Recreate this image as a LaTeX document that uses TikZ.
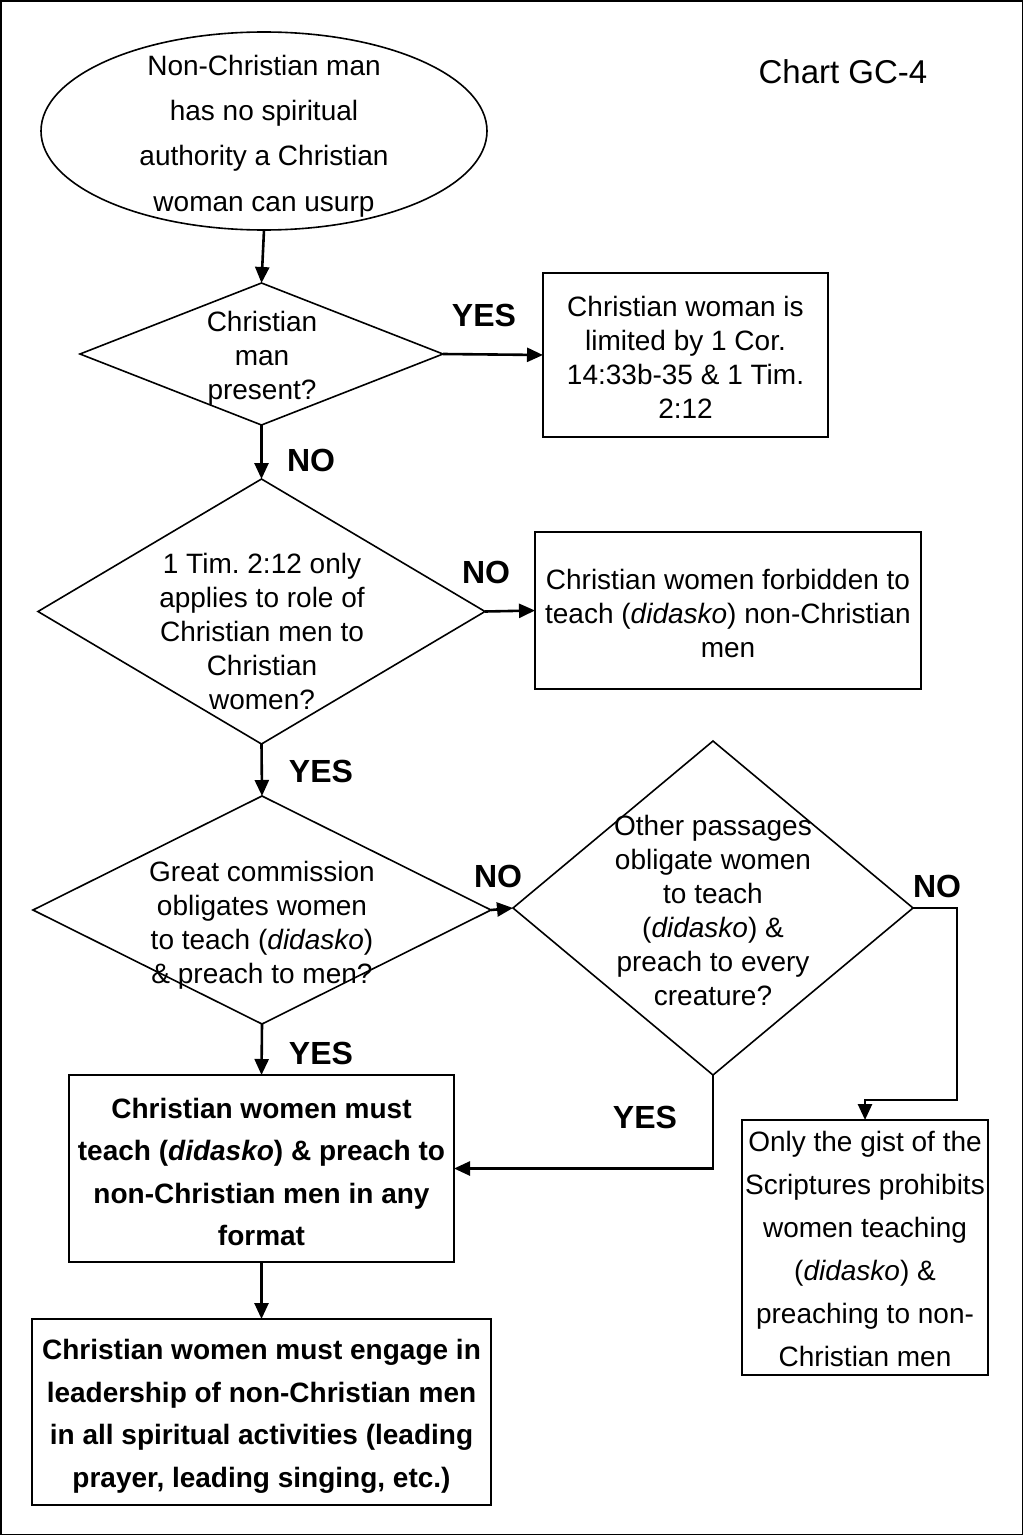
\documentclass[tikz,border=0pt]{standalone}
\usepackage{fontspec}
\setmainfont{Liberation Sans}
\usetikzlibrary{shapes.geometric,arrows.meta}
\frenchspacing
\tikzset{
  shp/.style={draw, line width=1.6pt, inner sep=0pt, outer sep=0pt},
  boxn/.style={shp, rectangle},
  dia/.style={shp, diamond},
  txt/.style={align=center, inner sep=0pt, font=\fontsize{28}{34}\selectfont},
  lbl/.style={inner sep=0pt, font=\fontsize{32}{36}\selectfont\bfseries},
  arr/.style={line width=2.6pt, -{Triangle[length=16pt,width=14pt]}},
}
\begin{document}
\begin{tikzpicture}[x=1pt,y=-1pt]
\useasboundingbox (0,0) rectangle (1024,1536);
\draw[line width=1.5pt] (1,1) rectangle (1022.5,1534.5);

% start ellipse
\node[shp, ellipse, minimum width=446pt, minimum height=198pt] (e) at (264,131) {};
\node[txt, font=\fontsize{28}{45.3}\selectfont] (et) at (264,136) {Non-Christian man\\has no spiritual\\authority a Christian\\woman can usurp};

% diamonds
\node[dia, minimum width=363pt, minimum height=142pt] (d1) at (261.5,354) {};
\node[txt] (d1t) at (262,358) {Christian\\man\\present?};

\node[dia, minimum width=447pt, minimum height=265pt] (d2) at (261.5,611.5) {};
\node[txt] (d2t) at (262,631.5) {1 Tim. 2:12 only\\applies to role of\\Christian men to\\Christian\\women?};

\node[dia, minimum width=458pt, minimum height=228pt] (d3) at (262,910) {};
\node[txt] (d3t) at (262,925) {Great commission\\obligates women\\to teach (\textit{didasko})\\\& preach to men?};

\node[dia, minimum width=400pt, minimum height=334pt] (d4) at (713,908) {};
\node[txt] (d4t) at (713,910.5) {Other passages\\obligate women\\to teach\\(\textit{didasko}) \&\\preach to every\\creature?};

% boxes
\node[boxn, minimum width=285pt, minimum height=164pt] (b1) at (685.5,355) {};
\node[txt] (b1t) at (685.5,357) {Christian woman is\\limited by 1 Cor.\\14:33b-35 \& 1 Tim.\\2:12};

\node[boxn, minimum width=386pt, minimum height=157pt] (b2) at (728,610.5) {};
\node[txt] (b2t) at (728,613) {Christian women forbidden to\\teach (\textit{didasko}) non-Christian\\men};

\node[boxn, minimum width=385pt, minimum height=187pt] (b3) at (261.5,1168.5) {};
\node[txt, font=\fontsize{28}{42.5}\selectfont\bfseries] (b3t) at (261.5,1172) {Christian women must\\teach (\textit{didasko}) \& preach to\\non-Christian men in any\\format};

\node[boxn, minimum width=246pt, minimum height=255pt] (b4) at (865,1247.5) {};
\node[txt, font=\fontsize{28}{43}\selectfont] (b4t) at (865,1249) {Only the gist of the\\Scriptures prohibits\\women teaching\\(\textit{didasko}) \&\\preaching to non-\\Christian men};

\node[boxn, minimum width=459pt, minimum height=186pt] (b5) at (261.5,1412) {};
\node[txt, font=\fontsize{28}{42.5}\selectfont\bfseries] (b5t) at (261.5,1416.5) {Christian women must engage in\\leadership of non-Christian men\\in all spiritual activities (leading\\prayer, leading singing, etc.)};

% title
\node[inner sep=0pt, font=\fontsize{33}{38}\selectfont] (title) at (843,72) {Chart GC-4};

% connectors
\draw[arr] (e.south) -- (d1.north);
\draw[arr] (d1.east) -- (b1.west);
\draw[arr] (d1.south) -- (d2.north);
\draw[arr] (d2.east) -- (b2.west);
\draw[arr] (d2.south) -- (d3.north);
\draw[arr] (d3.east) -- (d4.west);
\draw[arr] (d3.south) -- (b3.north);
\draw[arr] (b3.south) -- (b5.north);
\draw[arr] (d4.south) |- (b3.east);
\coordinate (k1) at (957,1100);
\draw[arr] (d4.east) -| (k1) -| (b4.north);

% labels
\node[lbl] (l1) at (484,315) {YES};
\node[lbl] (l2) at (311,460) {NO};
\node[lbl] (l3) at (486,572) {NO};
\node[lbl] (l4) at (321,771) {YES};
\node[lbl] (l5) at (498,876) {NO};
\node[lbl] (l6) at (937,886) {NO};
\node[lbl] (l7) at (645,1117) {YES};
\node[lbl] (l8) at (321,1053) {YES};
\end{tikzpicture}
\end{document}
